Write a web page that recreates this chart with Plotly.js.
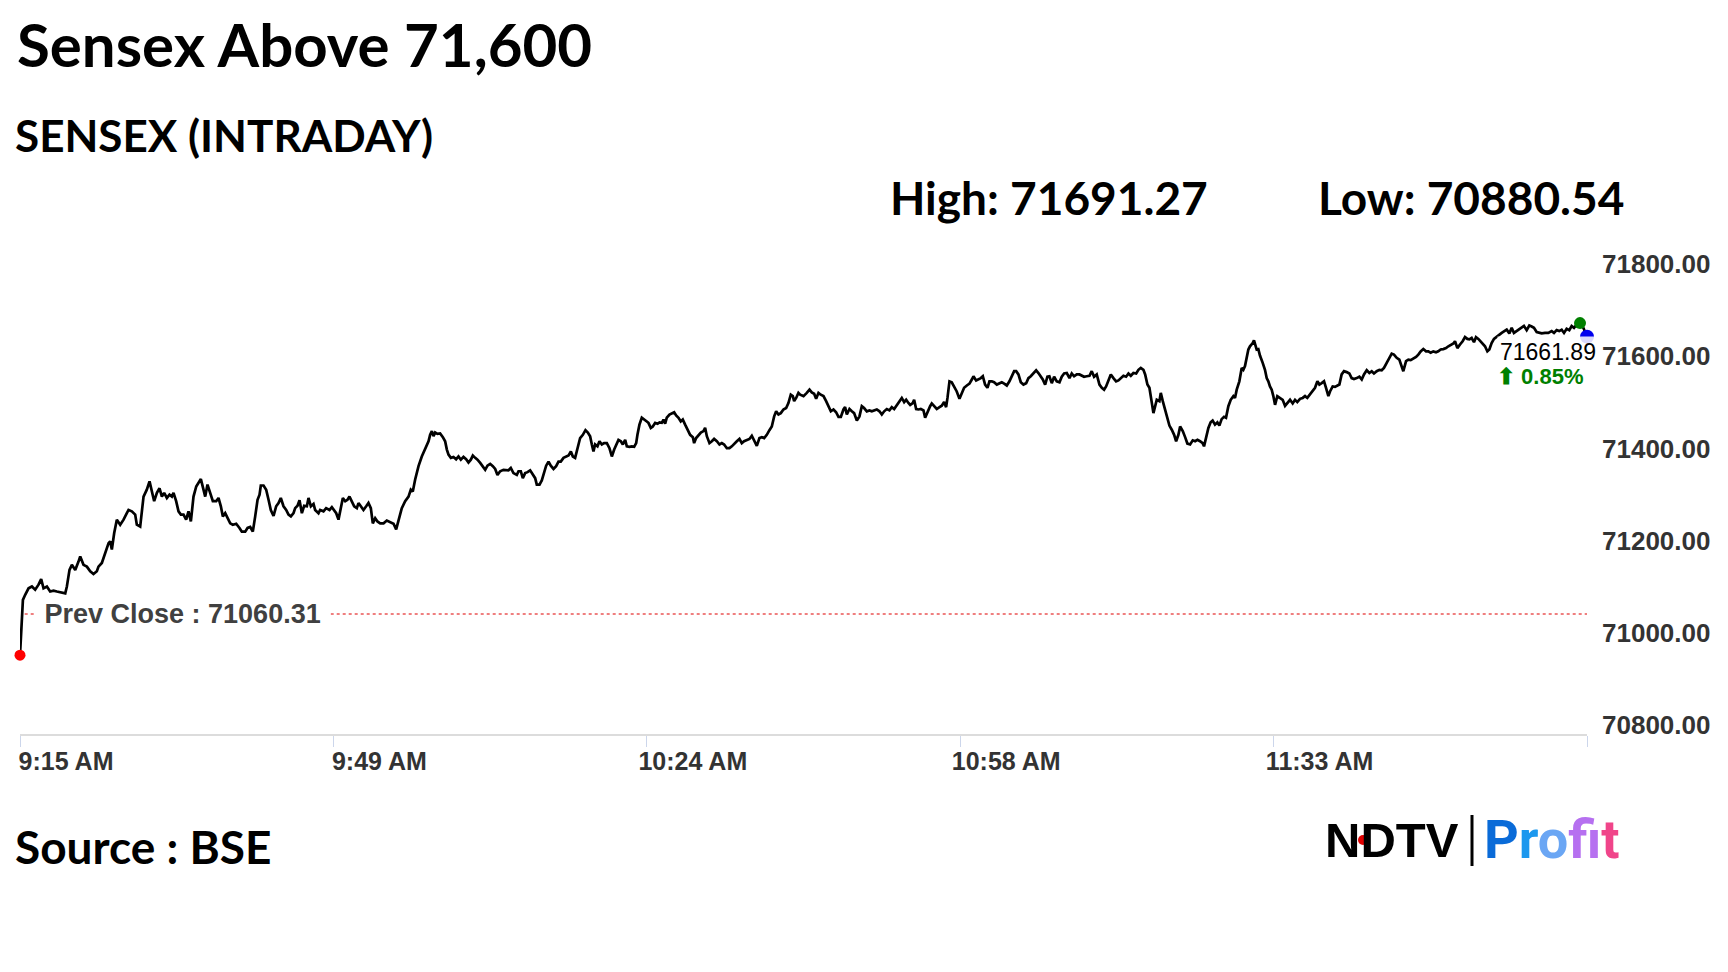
<!DOCTYPE html>
<html>
<head>
<meta charset="utf-8">
<script src="https://cdn.plot.ly/plotly-3.0.1.min.js"></script>
<style>
  html, body { margin: 0; padding: 0; background: #ffffff; }
  #chart { width: 1728px; height: 972px; }
</style>
</head>
<body>
<div id="chart"></div>
<script>
// ---------------- DATA ----------------
const chartTitle = 'Sensex Above 71,600';
const chartSubtitle = 'SENSEX (INTRADAY)';
const sourceText = 'Source : BSE';
const prevClose = 71060.31;
const dayHigh = 71691.27;
const dayLow = 70880.54;

// x axis ticks: minutes after 9:15 AM
const tickMinutes = [0, 34.5, 69, 103.5, 138];
const tickLabels = ['9:15 AM', '9:49 AM', '10:24 AM', '10:58 AM', '11:33 AM'];
const endTickMinute = [172.5];
const yTicks = [70800, 71000, 71200, 71400, 71600, 71800];

// intraday series: minutes after 9:15 AM
const minutesSinceOpen = [
  0, 0.32, 0.57, 0.94, 1.31, 1.67, 2.04, 2.33, 2.59, 2.96, 3.32, 3.69, 4.06, 4.61, 4.98, 5.16, 5.45, 5.71, 6.08, 6.44,
  6.63, 6.99, 7.36, 7.73, 8.09, 8.46, 8.64, 9.01, 9.38, 9.75, 9.93, 10.11, 10.37, 10.66, 11.03, 11.40, 11.76, 11.95, 12.31, 12.68,
  12.86, 13.23, 13.60, 13.96, 14.26, 14.52, 14.77, 15.07, 15.36, 15.62, 15.87, 16.17, 16.46, 16.72, 16.90, 17.19, 17.45, 17.71, 18.00, 18.29,
  18.55, 18.81, 19.10, 19.40, 19.65, 19.91, 20.20, 20.39, 20.64, 20.94, 21.23, 21.60, 21.85, 22.11, 22.33, 22.59, 22.84, 23.14, 23.43, 23.80,
  24.16, 24.42, 24.79, 25.05, 25.34, 25.63, 25.89, 26.15, 26.37, 26.51, 26.81, 27.10, 27.36, 27.61, 27.91, 28.20, 28.46, 28.71, 29.01, 29.30,
  29.56, 29.82, 30.11, 30.29, 30.55, 30.77, 31.03, 31.28, 31.58, 31.76, 32.02, 32.31, 32.49, 32.86, 33.04, 33.41, 33.70, 34.07, 34.33, 34.51,
  34.81, 35.06, 35.32, 35.54, 35.80, 36.05, 36.27, 36.53, 36.79, 37.08, 37.26, 37.52, 37.81, 38.11, 38.36, 38.62, 38.84, 39.10, 39.35, 39.65,
  40.02, 40.38, 40.75, 41.12, 41.41, 41.67,
  42.03, 42.40, 42.77, 43.02, 43.24, 43.50, 43.87, 44.23, 44.60, 44.97, 45.15, 45.34, 45.52, 45.70, 45.96, 46.25, 46.55, 46.80, 46.99, 47.17,
  47.43, 47.72, 48.01, 48.27, 48.53, 48.82, 49.11, 49.37, 49.63, 49.85, 50.11, 50.36, 50.66, 50.95, 51.21, 51.46, 51.76, 52.05, 52.31, 52.56,
  52.86, 53.22, 53.52, 53.77, 54.03, 54.32, 54.69, 54.88, 55.13, 55.35, 55.61, 55.87, 56.16, 56.45, 56.71, 56.89, 57.19, 57.44, 57.70, 57.92,
  58.18, 58.43, 58.73, 59.02, 59.28, 59.53, 59.83, 60.12, 60.38, 60.64, 60.86, 61.11, 61.37, 61.66, 61.96, 62.25, 62.51, 62.76, 62.95, 63.13,
  63.31, 63.57, 63.79, 64.05, 64.30, 64.60, 64.89, 65.15, 65.41, 65.63, 65.88, 66.14, 66.36, 66.62, 66.80, 67.09, 67.35, 67.61, 67.83, 67.97,
  68.19, 68.45, 68.71, 69.00, 69.18, 69.44, 69.66, 69.92, 70.18, 70.40, 70.65, 70.84, 71.02, 71.20, 71.50, 71.75, 72.01, 72.23, 72.49, 72.74,
  72.96, 73.22, 73.48, 73.77, 74.07, 74.21, 74.43, 74.69, 74.95, 75.24, 75.42, 75.61, 75.90, 76.16, 76.41, 76.71, 77.00, 77.26, 77.51, 77.81,
  78.10, 78.36, 78.61, 78.91, 79.20, 79.46, 79.71, 80.01, 80.30, 80.56, 80.82, 81.11, 81.40, 81.66, 81.92, 82.21, 82.50, 82.76, 83.02, 83.24,
  83.49, 83.75, 84.04, 84.34, 84.59, 84.85, 85.07, 85.22, 85.44, 85.69,
  85.88, 86.25, 86.61, 86.91, 87.16, 87.42, 87.64, 87.90, 88.15, 88.45, 88.74, 89.00, 89.26, 89.55, 89.84, 90.10, 90.36, 90.65, 90.83, 91.02,
  91.31, 91.57, 91.82, 92.12, 92.41, 92.67, 92.92, 93.22, 93.51, 93.77, 94.03, 94.32, 94.61, 94.87, 95.13, 95.42, 95.71, 95.97, 96.23, 96.52,
  96.81, 97.07, 97.33, 97.55, 97.80, 97.99, 98.28, 98.43, 98.65, 98.91, 99.16, 99.46, 99.64, 99.90, 100.19, 100.37, 100.63, 100.92, 101.22, 101.47,
  101.73, 101.95, 102.10, 102.32, 102.57, 102.83, 103.12, 103.42, 103.68, 103.93, 104.23, 104.52, 104.78, 104.96, 105.25, 105.51, 105.77, 105.99, 106.24, 106.50,
  106.72, 106.98, 107.23, 107.53, 107.82, 108.08, 108.34, 108.63, 108.92, 109.18, 109.44, 109.66, 109.91, 110.17, 110.46, 110.76, 111.01, 111.27, 111.56, 111.86,
  112.11, 112.37, 112.59, 112.85, 113.10, 113.32, 113.58, 113.84, 114.13, 114.43, 114.68, 114.94, 115.23, 115.53, 115.78, 116.04, 116.33, 116.63, 116.88, 117.14,
  117.43, 117.73, 117.98, 118.24, 118.53, 118.83, 119.09, 119.34, 119.56, 119.82, 120.08, 120.37, 120.66, 120.92, 121.18, 121.47, 121.76, 122.02, 122.28, 122.57,
  122.87, 123.12, 123.38, 123.67, 123.86, 124.11, 124.33, 124.48, 124.63, 124.77, 124.96, 125.14, 125.43, 125.58, 125.80, 126.06, 126.31, 126.53, 126.79, 127.05,
  127.27, 127.52, 127.71, 128.00, 128.26, 128.51, 128.81, 129.10, 129.36, 129.62,
  129.90, 130.19, 130.34, 130.56, 130.82, 131.07, 131.29, 131.55, 131.81, 132.03, 132.28, 132.54, 132.76, 133.02, 133.28, 133.57, 133.75, 133.94, 134.23, 134.49,
  134.67, 134.85, 135.04, 135.22, 135.40, 135.70, 135.84, 135.95, 136.14, 136.32, 136.50, 136.80, 137.05, 137.24, 137.42, 137.60, 137.79, 137.97, 138.16, 138.41,
  138.71, 139.00, 139.26, 139.51, 139.81, 140.10, 140.36, 140.61, 140.91, 141.20, 141.46, 141.71, 142.01, 142.30, 142.56, 142.82, 143.04, 143.29, 143.55, 143.77,
  144.03, 144.21, 144.50, 144.76, 145.02, 145.24, 145.49, 145.75, 146.04, 146.34, 146.59, 146.85, 147.15, 147.44, 147.70, 147.95, 148.25, 148.54, 148.80, 149.05,
  149.35, 149.64, 149.90, 150.15, 150.45, 150.74, 151.00, 151.25, 151.55, 151.84, 152.10, 152.28, 152.58, 152.83, 153.09, 153.38, 153.68, 153.93, 154.19, 154.48,
  154.78, 155.03, 155.29, 155.58, 155.88, 156.13, 156.39, 156.68, 156.98, 157.24, 157.49, 157.79, 157.97, 158.23, 158.52, 158.81, 159.07, 159.33, 159.55, 159.80,
  160.06, 160.28, 160.54, 160.79, 161.01, 161.27, 161.53, 161.75, 162.00, 162.26, 163.11, 163.36, 163.66, 163.95, 164.21, 164.46, 164.76, 165.05, 165.31, 165.56,
  165.86, 166.15, 166.41, 166.66, 166.96, 167.25, 167.51, 167.88, 168.24, 168.61, 168.87, 169.16, 169.45, 169.71, 169.97, 170.26, 170.55, 170.81, 171.07, 171.36,
  171.73, 172.10, 172.50
];

const sensexValues = [
  70971, 71091, 71102, 71116, 71120, 71113, 71124, 71136, 71116, 71120, 71109, 71111, 71109, 71107, 71105, 71120, 71156, 71167, 71156, 71174,
  71185, 71167, 71163, 71153, 71147, 71153, 71163, 71171, 71192, 71214, 71218, 71200, 71236, 71265, 71254, 71265, 71279, 71286, 71283, 71276,
  71254, 71250, 71315, 71330, 71348, 71326, 71305, 71323, 71333, 71315, 71323, 71312, 71319, 71315, 71323, 71305, 71283, 71276, 71276, 71265,
  71283, 71261, 71315, 71337, 71344, 71353, 71330, 71315, 71341, 71323, 71305, 71305, 71312, 71294, 71272, 71279, 71268, 71257, 71254, 71256,
  71247, 71239, 71239, 71247, 71249, 71239, 71272, 71308, 71319, 71339, 71339, 71330, 71308, 71286, 71273, 71294, 71301, 71312, 71294, 71286,
  71276, 71272, 71279, 71290, 71295, 71307, 71279, 71295, 71294, 71312, 71294, 71299, 71286, 71279, 71286, 71283, 71290, 71286, 71292, 71286,
  71279, 71265, 71294, 71312, 71305, 71308, 71315, 71305, 71294, 71290, 71301, 71294, 71286, 71294, 71301, 71290, 71257, 71268, 71261, 71257,
  71257, 71263, 71259, 71256, 71244, 71261,
  71290, 71305, 71315, 71330, 71326, 71352, 71381, 71402, 71417, 71435, 71449, 71457, 71446, 71454, 71451, 71452, 71444, 71435, 71417, 71406,
  71399, 71401, 71396, 71402, 71395, 71401, 71396, 71389, 71395, 71404, 71399, 71395, 71388, 71379, 71373, 71382, 71386, 71381, 71375, 71362,
  71370, 71373, 71373, 71372, 71377, 71366, 71362, 71370, 71370, 71355, 71366, 71368, 71372, 71362, 71355, 71341, 71341, 71350, 71366, 71382,
  71391, 71382, 71375, 71381, 71391, 71391, 71399, 71402, 71404, 71413, 71402, 71399, 71417, 71442, 71449, 71459, 71454, 71446, 71428, 71413,
  71428, 71424, 71435, 71428, 71431, 71431, 71420, 71402, 71417, 71428, 71438, 71435, 71428, 71438, 71424, 71423, 71424, 71423, 71431, 71449,
  71471, 71486, 71483, 71478, 71475, 71464, 71467, 71475, 71473, 71476, 71475, 71482, 71473, 71486, 71493, 71496, 71498, 71491, 71486, 71478,
  71482, 71471, 71460, 71449, 71444, 71431, 71442, 71449, 71454, 71457, 71464, 71446, 71431, 71435, 71440, 71435, 71428, 71431, 71428, 71420,
  71420, 71424, 71430, 71435, 71440, 71431, 71435, 71437, 71440, 71447, 71435, 71425, 71442, 71444, 71442, 71449, 71459, 71467, 71489, 71500,
  71493, 71496, 71504, 71507, 71518, 71536, 71533, 71522, 71529, 71540,
  71536, 71533, 71540, 71547, 71541, 71538, 71527, 71540, 71536, 71533, 71522, 71511, 71500, 71504, 71498, 71488, 71488, 71504, 71509, 71493,
  71505, 71500, 71496, 71480, 71489, 71511, 71507, 71500, 71502, 71500, 71502, 71504, 71500, 71493, 71500, 71505, 71502, 71509, 71505, 71514,
  71522, 71529, 71520, 71525, 71518, 71514, 71518, 71525, 71505, 71504, 71505, 71502, 71486, 71500, 71511, 71517, 71512, 71505, 71509, 71512,
  71520, 71509, 71529, 71565, 71563, 71554, 71543, 71527, 71541, 71551, 71556, 71560, 71569, 71576, 71567, 71569, 71572, 71576, 71558, 71551,
  71565, 71565, 71563, 71558, 71561, 71563, 71560, 71556, 71565, 71575, 71587, 71587, 71580, 71563, 71558, 71561, 71572, 71576, 71583, 71589,
  71583, 71576, 71569, 71558, 71575, 71576, 71561, 71575, 71565, 71563, 71575, 71582, 71583, 71572, 71582, 71576, 71580, 71580, 71577, 71575,
  71576, 71577, 71587, 71575, 71580, 71558, 71551, 71547, 71554, 71569, 71580, 71572, 71565, 71567, 71572, 71577, 71575, 71582, 71577, 71583,
  71582, 71590, 71594, 71590, 71580, 71558, 71551, 71536, 71514, 71496, 71511, 71525, 71522, 71540, 71522, 71504, 71486, 71469, 71460, 71449,
  71435, 71449, 71467, 71457, 71444, 71430, 71428, 71437, 71435, 71438,
  71435, 71431, 71424, 71446, 71464, 71476, 71480, 71471, 71476, 71469, 71483, 71488, 71486, 71511, 71525, 71533, 71529, 71547, 71565, 71594,
  71590, 71598, 71616, 71634, 71641, 71648, 71654, 71645, 71634, 71635, 71621, 71605, 71590, 71572, 71565, 71554, 71547, 71533, 71514, 71533,
  71529, 71525, 71512, 71518, 71525, 71517, 71525, 71520, 71527, 71529, 71533, 71529, 71536, 71543, 71551, 71565, 71558, 71561, 71565, 71551,
  71533, 71543, 71554, 71553, 71556, 71558, 71580, 71587, 71585, 71582, 71572, 71570, 71572, 71575, 71569, 71580, 71589, 71583, 71587, 71582,
  71587, 71590, 71589, 71594, 71605, 71616, 71625, 71623, 71616, 71612, 71598, 71587, 71609, 71612, 71611, 71614, 71618, 71623, 71630, 71635,
  71630, 71630, 71627, 71630, 71628, 71630, 71634, 71635, 71637, 71641, 71643, 71647, 71652, 71637, 71645, 71652, 71661, 71657, 71656, 71659,
  71650, 71661, 71657, 71652, 71648, 71641, 71630, 71634, 71648, 71657, 71670, 71674, 71677, 71669, 71681, 71670, 71674, 71677, 71681, 71685,
  71676, 71686, 71684, 71681, 71672, 71670, 71669, 71670, 71670, 71674, 71670, 71676, 71674, 71677, 71670, 71679, 71676, 71685, 71681, 71688,
  71691.27, 71681, 71661.89
];

// ---------------- CHART ----------------
const n = sensexValues.length;
const firstT = minutesSinceOpen[0], firstV = sensexValues[0];
const lastT = minutesSinceOpen[n - 1], lastV = sensexValues[n - 1];
let hiIdx = 0;
for (let i = 1; i < n; i++) if (sensexValues[i] > sensexValues[hiIdx]) hiIdx = i;
const pctChange = ((lastV - prevClose) / prevClose * 100).toFixed(2);

const W = 1728, H = 972;
const M = { l: 20, r: 141, t: 273, b: 238 };
const PW = W - M.l - M.r, PH = H - M.t - M.b;
// helpers to place decorative text in paper units from page pixels
const px = X => (X - M.l) / PW;
const py = Y => (H - M.b - Y) / PH;

const ARIAL = 'Liberation Sans, Arial, sans-serif';
const CAL = 'Lato, Open Sans, sans-serif';

const traces = [
  {
    type: 'scatter', mode: 'lines', x: minutesSinceOpen, y: sensexValues,
    line: { color: '#000000', width: 2.7 }, hoverinfo: 'skip', showlegend: false
  },
  {
    type: 'scatter', mode: 'markers', x: [firstT], y: [firstV], cliponaxis: false,
    marker: { color: '#ff0000', size: 11 }, showlegend: false
  },
  {
    type: 'scatter', mode: 'markers', x: [minutesSinceOpen[hiIdx]], y: [sensexValues[hiIdx]], cliponaxis: false,
    marker: { color: '#008000', size: 12 }, showlegend: false
  },
  {
    type: 'scatter', mode: 'markers', x: [lastT], y: [lastV], cliponaxis: false,
    marker: { color: '#0000ee', size: 14 }, showlegend: false
  }
];

const annotations = [
  // prev close label
  {
    xref: 'x', yref: 'y', x: firstT, y: prevClose, xanchor: 'left', yanchor: 'middle', xshift: 14,
    text: '\u00a0Prev Close : ' + prevClose.toFixed(2) + '\u00a0', showarrow: false,
    bgcolor: '#ffffff', borderpad: 2,
    font: { family: ARIAL, size: 27, color: '#404040', weight: 'bold' }
  },
  // last value label
  {
    xref: 'x', yref: 'y', x: lastT, y: lastV, xanchor: 'right', yanchor: 'middle', xshift: 12, yshift: -15,
    text: lastV.toFixed(2), showarrow: false, bgcolor: 'rgba(255,255,255,0.85)', borderpad: 2,
    font: { family: ARIAL, size: 23, color: '#000000' }
  },
  {
    xref: 'x', yref: 'y', x: lastT, y: lastV, xanchor: 'right', yanchor: 'middle', xshift: -1, yshift: -40,
    text: '\u2b06 ' + pctChange + '%', showarrow: false, bgcolor: 'rgba(255,255,255,0.85)', borderpad: 1,
    font: { family: ARIAL, size: 22, color: '#008000', weight: 'bold' }
  },
  // subtitle, high / low, source
  {
    xref: 'paper', yref: 'paper', x: px(13), y: py(135), xanchor: 'left', yanchor: 'middle',
    text: chartSubtitle, showarrow: false, font: { family: CAL, size: 44, color: '#000', weight: 'bold' }
  },
  {
    xref: 'paper', yref: 'paper', x: px(888), y: py(197), xanchor: 'left', yanchor: 'middle',
    text: 'High: ' + dayHigh.toFixed(2), showarrow: false, font: { family: CAL, size: 46, color: '#000', weight: 'bold' }
  },
  {
    xref: 'paper', yref: 'paper', x: px(1316), y: py(197), xanchor: 'left', yanchor: 'middle',
    text: 'Low: ' + dayLow.toFixed(2), showarrow: false, font: { family: CAL, size: 46, color: '#000', weight: 'bold' }
  },
  {
    xref: 'paper', yref: 'paper', x: px(13), y: py(846), xanchor: 'left', yanchor: 'middle',
    text: sourceText, showarrow: false, font: { family: CAL, size: 46, color: '#000', weight: 'bold' }
  },
  // logo
  {
    xref: 'paper', yref: 'paper', x: px(1392), y: py(840), xanchor: 'center', yanchor: 'middle',
    text: 'NDTV', showarrow: false, font: { family: ARIAL, size: 49, color: '#000', weight: 900 }
  },
  {
    xref: 'paper', yref: 'paper', x: px(1551), y: py(839), xanchor: 'center', yanchor: 'middle',
    text: '<span style="color:#0a6bd8">P</span><span style="color:#1c98ee">r</span><span style="color:#6aa6f4">o</span>' +
          '<span style="color:#b670f0">f</span><span style="color:#f04ed8">i</span><span style="color:#f0458a">t</span>',
    showarrow: false, font: { family: 'Roboto, sans-serif', size: 54, weight: 'bold' }
  }
];

const shapes = [
  {
    type: 'line', xref: 'paper', yref: 'y', x0: 0.003, x1: 1, y0: prevClose, y1: prevClose,
    line: { color: '#e00000', width: 1.2, dash: 'dot' }, layer: 'below'
  },
  // logo divider and red dot
  {
    type: 'line', xref: 'paper', yref: 'paper', x0: px(1472), x1: px(1472), y0: py(815), y1: py(866),
    line: { color: '#000', width: 3 }
  },
  {
    type: 'circle', xref: 'paper', yref: 'paper', x0: px(1358), x1: px(1368), y0: py(835), y1: py(845),
    fillcolor: '#e00000', line: { width: 0 }
  }
];

const layout = {
  width: W, height: H,
  margin: M,
  paper_bgcolor: '#ffffff', plot_bgcolor: '#ffffff',
  showlegend: false,
  title: {
    text: chartTitle, xref: 'container', yref: 'container', x: 17 / W, xanchor: 'left',
    y: 1 - 46 / H, yanchor: 'middle', pad: { t: 0, b: 0, l: 0, r: 0 },
    font: { family: CAL, size: 60, color: '#000', weight: 'bold' }
  },
  xaxis: {
    range: [0, 172.5], tickmode: 'array', tickvals: tickMinutes, ticktext: tickLabels,
    showgrid: false, zeroline: false, showline: true, linecolor: '#dcdcdc', linewidth: 2,
    ticks: 'outside', ticklen: 11, tickwidth: 1, tickcolor: '#ccd6eb',
    ticklabelshift: 46, ticklabelstandoff: -7,
    minor: { tickmode: 'array', tickvals: endTickMinute, ticks: 'outside', ticklen: 11, tickwidth: 1, tickcolor: '#ccd6eb', showgrid: false },
    tickfont: { family: ARIAL, size: 25, color: '#333333', weight: 'bold' },
    fixedrange: true
  },
  yaxis: {
    side: 'right', range: [70800, 71800], tickmode: 'array', tickvals: yTicks,
    tickformat: '.2f', showgrid: false, zeroline: false, showline: false, ticks: '',
    ticklabelstandoff: 14, ticklabelshift: -9,
    tickfont: { family: ARIAL, size: 26, color: '#333333', weight: 'bold' },
    fixedrange: true
  },
  annotations: annotations,
  shapes: shapes
};

Plotly.newPlot('chart', traces, layout, { displayModeBar: false, staticPlot: true });
</script>
</body>
</html>
